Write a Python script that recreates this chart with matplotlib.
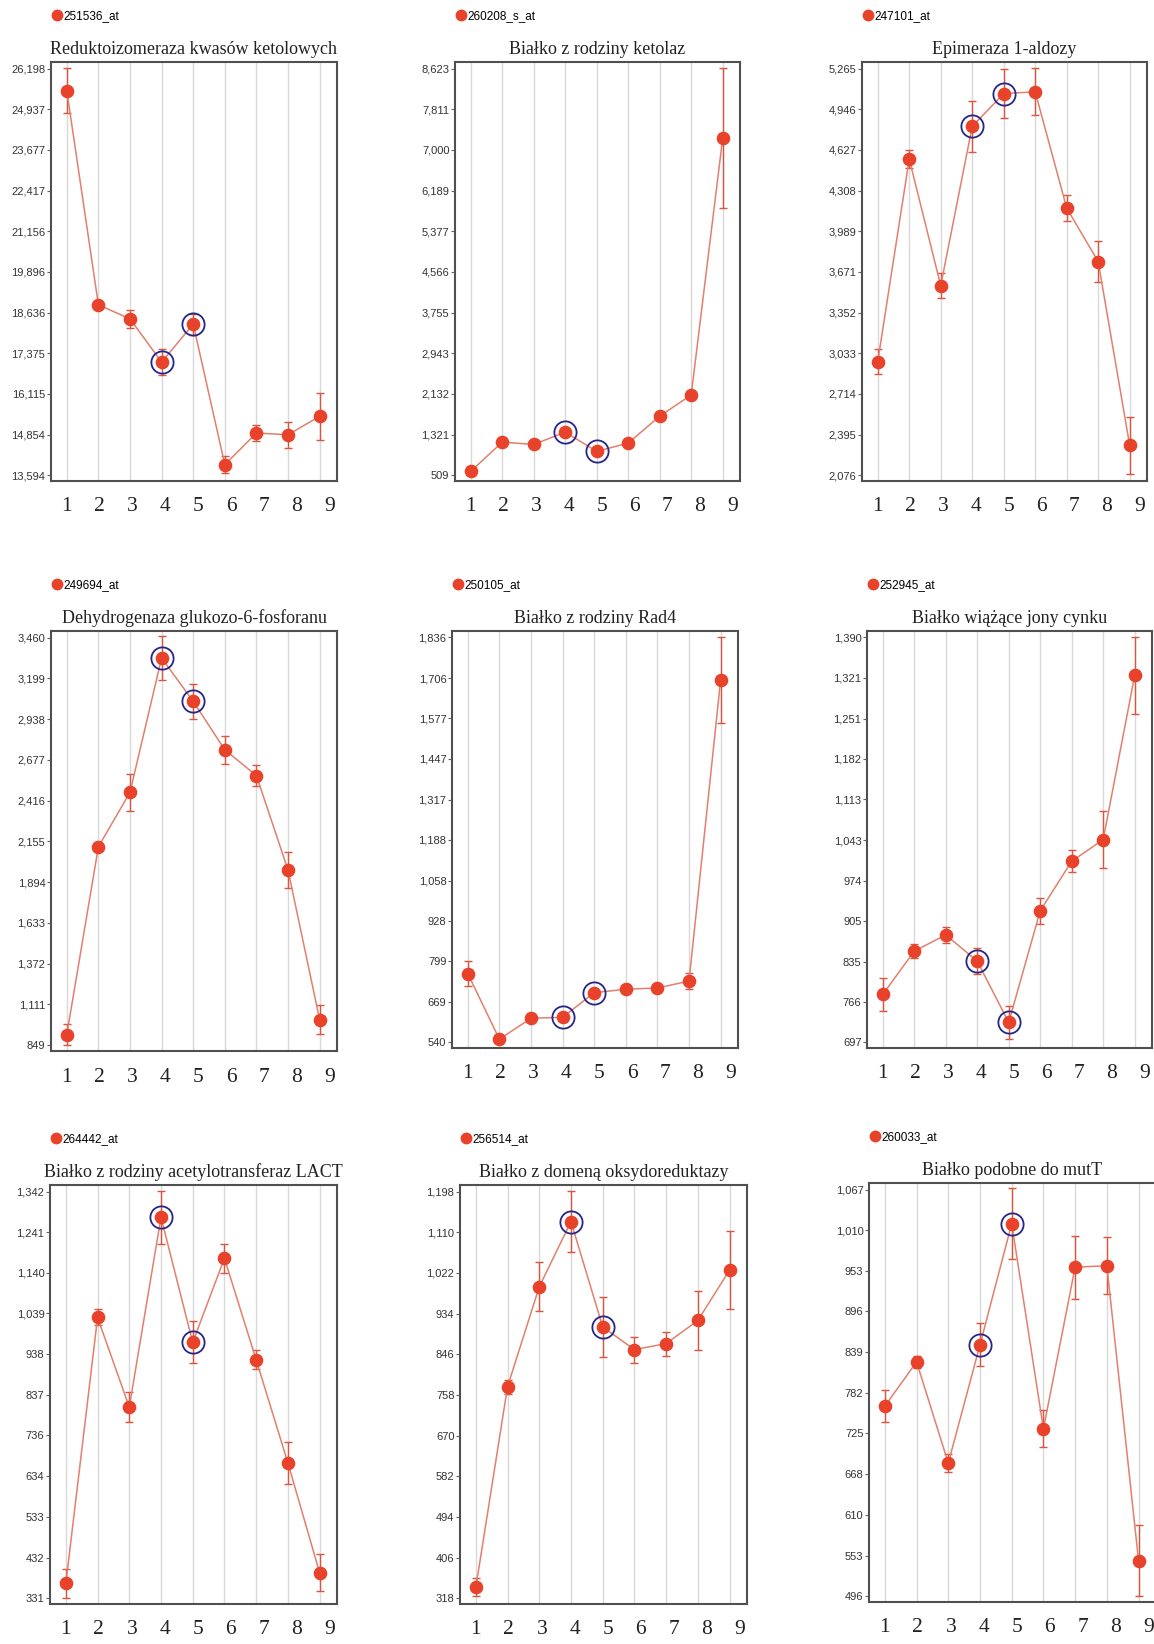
import numpy as np
import matplotlib
matplotlib.use("Agg")
import matplotlib.pyplot as plt
from matplotlib.lines import Line2D

# ---- data ----
x = [1, 2, 3, 4, 5, 6, 7, 8, 9]
x_labels = ["1", "2", "3", "4", "5", "6", "7", "8", "9"]
highlighted = [4, 5]

probes = ["251536_at", "260208_s_at", "247101_at",
          "249694_at", "250105_at", "252945_at",
          "264442_at", "256514_at", "260033_at"]

titles = ["Reduktoizomeraza kwasów ketolowych",
          "Białko z rodziny ketolaz",
          "Epimeraza 1-aldozy",
          "Dehydrogenaza glukozo-6-fosforanu",
          "Białko z rodziny Rad4",
          "Białko wiążące jony cynku",
          "Białko z rodziny acetylotransferaz LACT",
          "Białko z domeną oksydoreduktazy",
          "Białko podobne do mutT"]

means_1 = [25507, 18875, 18442, 17101, 18277, 13924, 14904, 14852, 15420]
errs_1 = [700, 90, 280, 400, 330, 270, 240, 400, 720]
means_2 = [588, 1171, 1125, 1370, 986, 1151, 1688, 2112, 7232]
errs_2 = [40, 40, 40, 50, 40, 40, 40, 40, 1400]
means_3 = [2968, 4555, 3563, 4811, 5069, 5082, 4171, 3751, 2311]
errs_3 = [100, 70, 98, 200, 195, 185, 105, 160, 225]
means_4 = [918, 2120, 2469, 3329, 3051, 2741, 2576, 1971, 1014]
errs_4 = [65, 30, 120, 140, 112, 90, 65, 118, 90]
means_5 = [760, 550, 617, 620, 699, 710, 714, 736, 1700]
errs_5 = [39, 6, 6, 8, 8, 6, 6, 25, 138]
means_6 = [779, 853, 881, 836, 731, 922, 1007, 1044, 1325]
errs_6 = [28, 12, 14, 22, 29, 22, 19, 49, 66]
means_7 = [368, 1029, 806, 1278, 967, 1176, 924, 668, 395]
errs_7 = [36, 20, 38, 66, 52, 36, 24, 52, 46]
means_8 = [342, 776, 992, 1133, 905, 856, 869, 919, 1028]
errs_8 = [20, 15, 53, 66, 65, 28, 26, 64, 85]
means_9 = [763, 825, 683, 849, 1019, 731, 958, 960, 546]
errs_9 = [23, 8, 13, 30, 50, 26, 44, 40, 50]

yticks_1 = [13594, 14854, 16115, 17375, 18636, 19896, 21156, 22417, 23677, 24937, 26198]
yticks_2 = [509, 1321, 2132, 2943, 3755, 4566, 5377, 6189, 7000, 7811, 8623]
yticks_3 = [2076, 2395, 2714, 3033, 3352, 3671, 3989, 4308, 4627, 4946, 5265]
yticks_4 = [849, 1111, 1372, 1633, 1894, 2155, 2416, 2677, 2938, 3199, 3460]
yticks_5 = [540, 669, 799, 928, 1058, 1188, 1317, 1447, 1577, 1706, 1836]
yticks_6 = [697, 766, 835, 905, 974, 1043, 1113, 1182, 1251, 1321, 1390]
yticks_7 = [331, 432, 533, 634, 736, 837, 938, 1039, 1140, 1241, 1342]
yticks_8 = [318, 406, 494, 582, 670, 758, 846, 934, 1022, 1110, 1198]
yticks_9 = [496, 553, 610, 668, 725, 782, 839, 896, 953, 1010, 1067]

all_means = [means_1, means_2, means_3, means_4, means_5, means_6, means_7, means_8, means_9]
all_errs = [errs_1, errs_2, errs_3, errs_4, errs_5, errs_6, errs_7, errs_8, errs_9]
all_yticks = [yticks_1, yticks_2, yticks_3, yticks_4, yticks_5, yticks_6, yticks_7, yticks_8, yticks_9]

# ---- layout (pixel boxes: left, right, top, bottom) ----
W, H = 1154, 1644
boxes = [(51, 337, 62, 481), (455, 740, 62, 481), (862, 1147, 62, 481),
         (51, 337, 631, 1051), (452, 738, 631, 1048), (867, 1152, 631, 1048),
         (50, 337, 1185, 1604), (460, 747, 1185, 1604), (869, 1156, 1183, 1602)]

RED = "#e8422b"
LINE = "#e2806c"
ERR = "#d8553f"
RING = "#25258a"
serif = ["Liberation Serif", "DejaVu Serif"]
sans = ["Liberation Sans", "DejaVu Sans"]

fig = plt.figure(figsize=(W / 100, H / 100), dpi=100)
fig.patch.set_facecolor("white")

for i in range(9):
    l, r, t, b = boxes[i]
    ax = fig.add_axes([l / W, 1 - b / H, (r - l) / W, (b - t) / H])
    means = all_means[i]
    errs = all_errs[i]
    yt = all_yticks[i]
    step = (yt[-1] - yt[0]) / 10

    for xv in x:
        ax.axvline(xv, color="#d9d9d9", lw=1.0, zorder=0)

    ax.errorbar(x, means, yerr=errs, fmt="none", ecolor=ERR, elinewidth=1.0,
                capsize=3, capthick=1.0, zorder=2)
    ax.plot(x, means, color=LINE, lw=1.1, zorder=3)
    ax.plot(x, means, "o", color=RED, ms=8.8, mec=RED, zorder=4)

    hx = [xv for xv in x if xv in highlighted]
    hy = [means[x.index(xv)] for xv in hx]
    ax.plot(hx, hy, "o", mfc="none", mec=RING, mew=1.3, ms=16, zorder=5)

    ax.set_xlim(0.5, 9.55)
    ax.set_ylim(yt[0] - 0.14 * step, yt[-1] + 0.16 * step)
    ax.set_yticks(yt)
    ax.set_yticklabels([f"{v:,}" for v in yt], fontsize=8, family=sans, color="#333333")
    ax.tick_params(axis="y", length=3, width=0.8, color="#666666", pad=1)
    ax.set_xticks([])
    for k, lab in enumerate(x_labels):
        xp = x[k] + (x[k] - 1) * 0.04
        ax.text(xp, -0.062, lab, transform=ax.get_xaxis_transform(), ha="center",
                va="center", fontsize=15.5, family=serif, color="#222222")

    for s in ax.spines.values():
        s.set_color("#505050")
        s.set_linewidth(1.5)

    ax.set_title(titles[i], fontsize=13, family=serif, pad=6, color="#222222")

    handle = Line2D([], [], marker="o", ls="", color=RED, ms=7.5)
    ax.legend([handle], [probes[i]], loc="center left",
              bbox_to_anchor=((l + 1) / W, 1 - (t - 46) / H),
              bbox_transform=fig.transFigure, frameon=False, borderpad=0,
              borderaxespad=0, handlelength=0.8, handletextpad=0.2,
              prop={"family": sans, "size": 8.5})

fig.savefig("out.png", dpi=100, facecolor="white")
